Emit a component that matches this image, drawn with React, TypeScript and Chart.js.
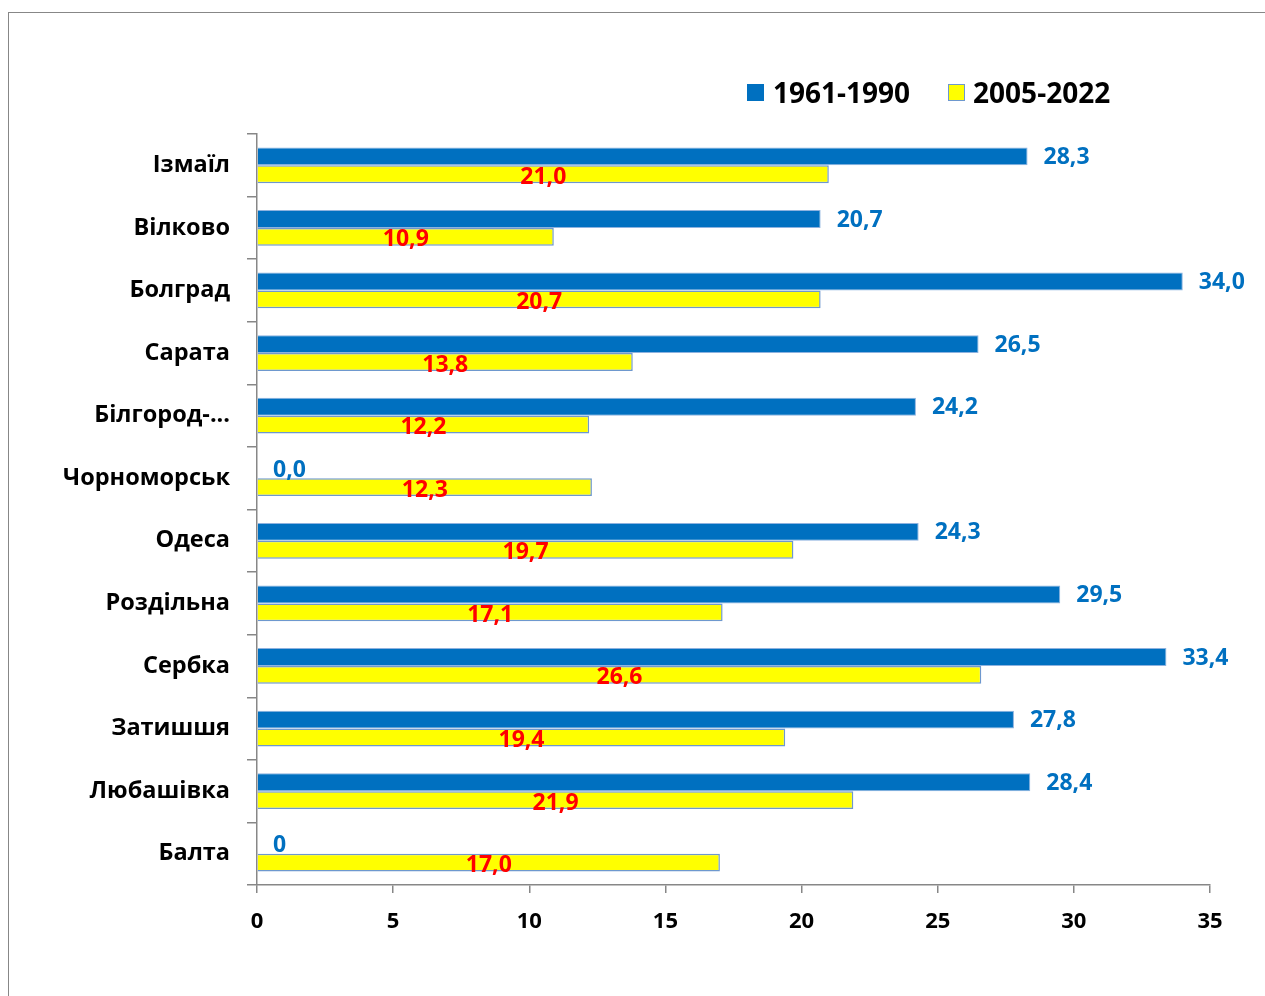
import React, { useEffect, useRef } from "react";
import { Chart, registerables } from "chart.js";

Chart.register(...registerables);

// Stations, top to bottom
const stations = [
  "Ізмаїл",
  "Вілково",
  "Болград",
  "Сарата",
  "Білгород-...",
  "Чорноморськ",
  "Одеса",
  "Роздільна",
  "Сербка",
  "Затишшя",
  "Любашівка",
  "Балта",
];

const periods = ["1961-1990", "2005-2022"];

const values1961 = [28.3, 20.7, 34.0, 26.5, 24.2, 0.0, 24.3, 29.5, 33.4, 27.8, 28.4, 0];
const values2005 = [21.0, 10.9, 20.7, 13.8, 12.2, 12.3, 19.7, 17.1, 26.6, 19.4, 21.9, 17.0];

const labels1961 = ["28,3", "20,7", "34,0", "26,5", "24,2", "0,0", "24,3", "29,5", "33,4", "27,8", "28,4", "0"];

const xTicks = [0, 5, 10, 15, 20, 25, 30, 35];

const BLUE = "#0070C0";
const YELLOW = "#FFFF00";
const AXIS = "#878787";
const FONT = '"Open Sans", "Noto Sans", sans-serif';

const fmt = (v: number) => v.toFixed(1).replace(".", ",");

const valueLabels = {
  id: "valueLabels",
  afterDatasetsDraw(chart: any) {
    const ctx = chart.ctx;
    ctx.save();
    ctx.font = `bold 23px ${FONT}`;
    ctx.textBaseline = "middle";

    const m0 = chart.getDatasetMeta(0);
    ctx.fillStyle = BLUE;
    ctx.textAlign = "left";
    m0.data.forEach((bar: any, i: number) => {
      ctx.fillText(labels1961[i], bar.x + 16, bar.y + 1);
    });

    const m1 = chart.getDatasetMeta(1);
    ctx.fillStyle = "#FF0000";
    ctx.textAlign = "center";
    m1.data.forEach((bar: any, i: number) => {
      ctx.fillText(fmt(values2005[i]), (bar.base + bar.x) / 2, bar.y + 3);
    });
    ctx.restore();
  },
};

export default function App() {
  const canvasRef = useRef<HTMLCanvasElement | null>(null);

  useEffect(() => {
    if (!canvasRef.current) return;
    const chart = new Chart(canvasRef.current, {
      type: "bar",
      data: {
        labels: stations,
        datasets: [
          {
            label: periods[0],
            data: values1961,
            backgroundColor: BLUE,
            borderColor: "#8DB2DF",
            borderWidth: 1,
            categoryPercentage: 0.57,
            barPercentage: 1.0,
          },
          {
            label: periods[1],
            data: values2005,
            backgroundColor: YELLOW,
            borderColor: "#6E98CE",
            borderWidth: 1.5,
            categoryPercentage: 0.57,
            barPercentage: 1.0,
          },
        ],
      },
      options: {
        indexAxis: "y",
        animation: false,
        responsive: false,
        layout: { padding: { top: 121, right: 55, left: 0, bottom: 0 } },
        plugins: {
          legend: { display: false },
          tooltip: { enabled: false },
        },
        scales: {
          x: {
            min: 0,
            max: 35,
            afterBuildTicks: (scale: any) => {
              scale.ticks = xTicks.map((v) => ({ value: v }));
            },
            afterFit: (scale: any) => {
              scale.height = 111;
            },
            grid: {
              drawOnChartArea: false,
              drawTicks: true,
              tickLength: 8,
              color: AXIS,
              lineWidth: 1.5,
            },
            border: { display: true, color: AXIS, width: 1.5 },
            ticks: {
              color: "#000",
              padding: 16,
              font: { family: FONT, size: 22, weight: "bold" },
            },
          },
          y: {
            afterFit: (scale: any) => {
              scale.width = 248;
            },
            grid: {
              offset: true,
              drawOnChartArea: false,
              drawTicks: true,
              tickLength: 10,
              color: AXIS,
              lineWidth: 1.5,
            },
            border: { display: true, color: AXIS, width: 1.5 },
            ticks: {
              color: "#000",
              padding: 17,
              font: { family: FONT, size: 23.5, weight: "bold" },
            },
          },
        },
      },
      plugins: [valueLabels],
    });
    return () => chart.destroy();
  }, []);

  return (
    <div
      style={{
        position: "fixed",
        left: 8,
        top: 12,
        width: 1265,
        height: 992,
        borderLeft: `1px solid ${AXIS}`,
        borderTop: `1px solid ${AXIS}`,
        background: "#fff",
      }}
    >
      <canvas ref={canvasRef} width={1256} height={983} style={{ display: "block" }} />
      <div
        style={{
          position: "absolute",
          left: 738,
          top: 62,
          height: 34,
          display: "flex",
          alignItems: "center",
          fontFamily: FONT,
          fontWeight: 700,
          fontSize: 28,
          color: "#000",
          whiteSpace: "nowrap",
        }}
      >
        <span style={{ width: 17, height: 17, background: BLUE, display: "inline-block" }} />
        <span style={{ marginLeft: 9 }}>{periods[0]}</span>
        <span
          style={{
            width: 15,
            height: 15,
            background: YELLOW,
            border: "1.5px solid #6E98CE",
            display: "inline-block",
            marginLeft: 38,
          }}
        />
        <span style={{ marginLeft: 8 }}>{periods[1]}</span>
      </div>
    </div>
  );
}
